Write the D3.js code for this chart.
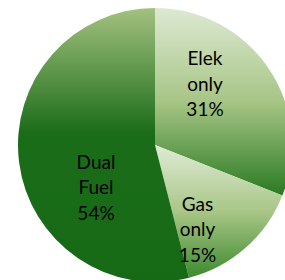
<!DOCTYPE html>
<html>
<head>
<meta charset="utf-8">
<script src="https://cdn.jsdelivr.net/npm/d3@7"></script>
<style>
  body { margin: 0; background: #fff; }
  svg { display: block; }
</style>
</head>
<body>
<svg id="chart" width="285" height="280"></svg>
<script>
// slice data, clockwise from 12 o'clock
var categories = ["Elek only", "Gas only", "Dual Fuel"];
var shares = [31, 15, 54];
var percentLabels = ["31%", "15%", "54%"];

// gradient stops per slice (top -> bottom of the slice)
var sliceStops = [
  [["0%", "#dde9d3"], ["50%", "#a7c585"], ["100%", "#2a7a22"]],
  [["0%", "#dfebd6"], ["50%", "#a9c687"], ["100%", "#3d8a2f"]],
  [["0%", "#a3c17f"], ["46%", "#1a6c19"], ["100%", "#176a15"]]
];

// where Excel put each label (middle line baseline), relative to the pie centre
var labelOffsets = [[50, -54.5], [42.5, 91], [-59, 49]];

var svg = d3.select("#chart"),
  cx = 155,
  cy = 145,
  radius = 137;

var defs = svg.append("defs");
sliceStops.forEach(function(stops, i) {
  var grad = defs
    .append("linearGradient")
    .attr("id", "slice" + i)
    .attr("x1", 0)
    .attr("y1", 0)
    .attr("x2", 0)
    .attr("y2", 1);
  stops.forEach(function(s) {
    grad
      .append("stop")
      .attr("offset", s[0])
      .attr("stop-color", s[1]);
  });
});

var pie = d3
  .pie()
  .sort(null)
  .value(function(d) {
    return d;
  });

var arc = d3
  .arc()
  .innerRadius(0)
  .outerRadius(radius);

var g = svg.append("g").attr("transform", "translate(" + cx + "," + cy + ")");

g.selectAll("path")
  .data(pie(shares))
  .enter()
  .append("path")
  .attr("d", arc)
  .attr("fill", function(d, i) {
    return "url(#slice" + i + ")";
  });

var labels = g
  .selectAll("text")
  .data(categories)
  .enter()
  .append("text")
  .attr("text-anchor", "middle")
  .attr("font-family", "Lato, 'Open Sans', sans-serif")
  .attr("font-size", 19)
  .attr("fill", "#000")
  .attr("transform", function(d, i) {
    return "translate(" + labelOffsets[i][0] + "," + labelOffsets[i][1] + ")";
  });

labels.each(function(d, i) {
  var lines = d.split(" ").concat([percentLabels[i]]);
  var t = d3.select(this);
  lines.forEach(function(line, j) {
    t.append("tspan")
      .attr("x", 0)
      .attr("y", (j - 1) * 25.5)
      .text(line);
  });
});
</script>
</body>
</html>
